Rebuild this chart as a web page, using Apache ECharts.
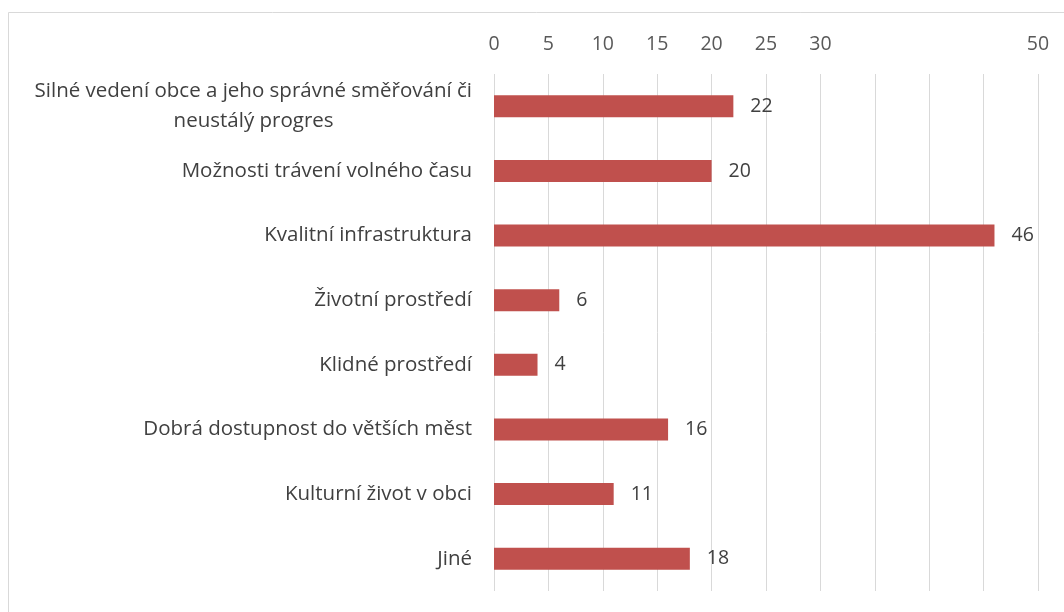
<!DOCTYPE html>
<html>
<head>
<meta charset="utf-8">
<script src="https://cdn.jsdelivr.net/npm/echarts@6/dist/echarts.min.js"></script>
<style>
  html, body { margin: 0; padding: 0; background: #fff; }
  #chart { width: 1064px; height: 612px; }
</style>
</head>
<body>
<div id="chart"></div>
<script>
// odpovedi (shora dolu)
var categories = [
    'Silné vedení obce a jeho správné směřování či\nneustálý progres',
    'Možnosti trávení volného času',
    'Kvalitní infrastruktura',
    'Životní prostředí',
    'Klidné prostředí',
    'Dobrá dostupnost do větších měst',
    'Kulturní život v obci',
    'Jiné'
];
var values = [22, 20, 46, 6, 4, 16, 11, 18];
// Excel schoval popisky 35-45
var shownTicks = [0, 5, 10, 15, 20, 25, 30, 50];

var font = '"Open Sans", sans-serif';
var catSize = 20.5;
var numSize = 19.5;

// dvouradkovy popisek: druhy radek vycentrovat pod prvnim (doplnit nezlomitelne mezery)
var ctx = document.createElement('canvas').getContext('2d');
ctx.font = catSize + 'px ' + font;
function textW(s) { return ctx.measureText(s).width; }
function centerPad(first, second) {
    var gap = (textW(first) - textW(second)) / 2;
    var n = Math.max(0, Math.round(gap / textW('\u00a0')));
    return second + new Array(n + 1).join('\u00a0');
}

var option = {
    backgroundColor: '#fff',
    animation: false,
    graphic: [{
        type: 'rect',
        shape: { x: 8.5, y: 12.5, width: 1100, height: 700 },
        style: { fill: 'none', stroke: '#d9d9d9', lineWidth: 1 },
        silent: true
    }],
    grid: {
        left: 494,
        right: 26,
        top: 74,
        bottom: 21
    },
    xAxis: {
        type: 'value',
        position: 'top',
        min: 0,
        max: 50,
        interval: 5,
        axisLine: { show: false },
        axisTick: { show: false },
        splitLine: { show: true, lineStyle: { color: '#d9d9d9', width: 1 } },
        axisLabel: {
            margin: 20,
            color: '#595959',
            fontFamily: font,
            fontSize: numSize,
            formatter: function (v) {
                return shownTicks.indexOf(v) >= 0 ? String(v) : '';
            }
        }
    },
    yAxis: {
        type: 'category',
        inverse: true,
        data: categories,
        axisLine: { show: false },
        axisTick: { show: false },
        axisLabel: {
            margin: 22,
            color: '#404040',
            fontFamily: font,
            fontSize: catSize,
            lineHeight: 30,
            formatter: function (v) {
                var lines = v.split('\n');
                if (lines.length < 2) return v;
                return '{a|' + lines[0] + '}\n{a|' + centerPad(lines[0], lines[1]) + '}';
            },
            rich: {
                a: {
                    color: '#404040',
                    fontFamily: font,
                    fontSize: catSize,
                    lineHeight: 30
                }
            }
        }
    },
    series: [{
        type: 'bar',
        data: values,
        barWidth: 22,
        itemStyle: { color: '#c0504d' },
        label: {
            show: true,
            position: 'right',
            distance: 17,
            color: '#404040',
            fontFamily: font,
            fontSize: numSize
        }
    }]
};

var myChart = echarts.init(document.getElementById('chart'));
myChart.setOption(option);
</script>
</body>
</html>
